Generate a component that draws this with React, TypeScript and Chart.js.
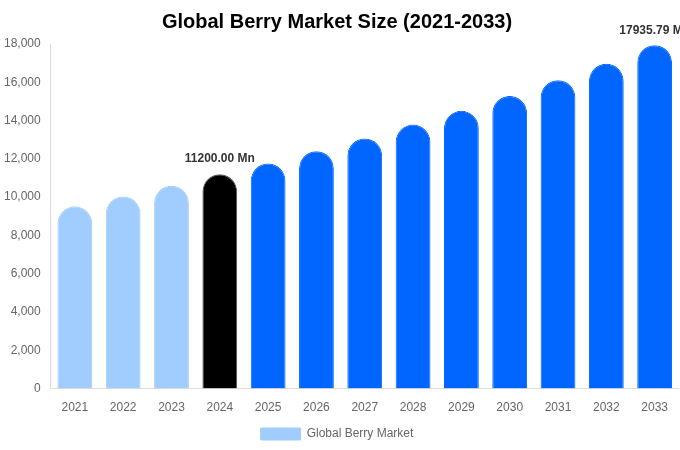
import { useEffect, useRef } from "react"
import { Chart, registerables, Plugin } from "chart.js"

Chart.register(...registerables)

const years = ["2021", "2022", "2023", "2024", "2025", "2026", "2027", "2028", "2029", "2030", "2031", "2032", "2033"]
const marketSize = [9520, 10040, 10600, 11200, 11760, 12400, 13070, 13790, 14510, 15290, 16110, 16970, 17935.79]
const barColors = [
  "#a0cdfd", "#a0cdfd", "#a0cdfd", "#000000",
  "#0066ff", "#0066ff", "#0066ff", "#0066ff", "#0066ff",
  "#0066ff", "#0066ff", "#0066ff", "#0066ff",
]
const labelledYears = ["2024", "2033"]

const FONT = "'Liberation Sans', Arial, sans-serif"

// draws "xxx Mn" over the highlighted bars
const valueLabels: Plugin<"bar"> = {
  id: "valueLabels",
  afterDatasetsDraw(chart) {
    const ctx = chart.ctx
    const meta = chart.getDatasetMeta(0)
    ctx.save()
    ctx.font = "bold 12px " + FONT
    ctx.fillStyle = "#333333"
    ctx.textAlign = "center"
    ctx.textBaseline = "bottom"
    years.forEach((year, i) => {
      if (!labelledYears.includes(year)) return
      const bar = meta.data[i]
      ctx.fillText(marketSize[i].toFixed(2) + " Mn", bar.x, bar.y - 9)
    })
    ctx.restore()
  },
}

export default function App() {
  const chartRef = useRef<HTMLCanvasElement>(null)
  const chartInstance = useRef<Chart | null>(null)

  useEffect(() => {
    document.body.style.margin = "0"
    if (!chartRef.current) return
    if (chartInstance.current) chartInstance.current.destroy()

    const ctx = chartRef.current.getContext("2d")
    if (!ctx) return

    chartInstance.current = new Chart(ctx, {
      type: "bar",
      data: {
        labels: years,
        datasets: [
          {
            label: "Global Berry Market",
            data: marketSize,
            backgroundColor: barColors,
            borderColor: barColors.map((c) => (c === "#000000" ? "#555555" : c)),
            borderWidth: 1,
            borderRadius: { topLeft: 20, topRight: 20 },
            borderSkipped: "bottom",
            barPercentage: 0.8,
            categoryPercentage: 0.9,
          },
        ],
      },
      options: {
        responsive: true,
        maintainAspectRatio: false,
        animation: false,
        layout: { padding: { left: -6, right: 0, top: 0, bottom: 0 } },
        plugins: {
          title: {
            display: true,
            text: "Global Berry Market Size (2021-2033)",
            color: "#000000",
            font: { size: 20, weight: "bold", family: FONT },
            padding: { top: 10, bottom: 10 },
          },
          legend: {
            position: "bottom",
            labels: {
              boxWidth: 40,
              boxHeight: 12,
              padding: 1,
              color: "#666666",
              font: { size: 12, family: FONT },
            },
          },
          tooltip: { enabled: false },
        },
        scales: {
          x: {
            grid: { display: false, drawTicks: false },
            border: { display: true, color: "#dddddd" },
            ticks: {
              color: "#666666",
              padding: 12,
              font: { size: 12, family: FONT },
            },
          },
          y: {
            beginAtZero: true,
            min: 0,
            max: 18000,
            grid: { display: false, drawTicks: false },
            border: { display: true, color: "#dddddd" },
            ticks: {
              stepSize: 2000,
              color: "#666666",
              padding: 10,
              font: { size: 12, family: FONT },
            },
          },
        },
      },
      plugins: [valueLabels],
    })

    return () => {
      if (chartInstance.current) {
        chartInstance.current.destroy()
        chartInstance.current = null
      }
    }
  }, [])

  return (
    <div style={{ width: 680, height: 450, position: "relative" }}>
      <canvas ref={chartRef} />
    </div>
  )
}
